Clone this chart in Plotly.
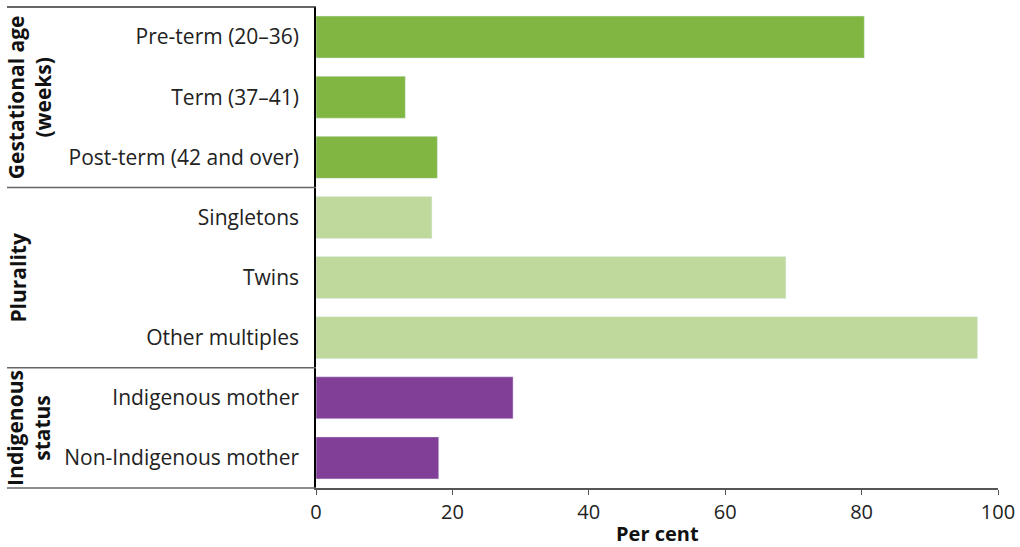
import plotly.graph_objects as go

# data
gest_labels = ["Pre-term (20–36)", "Term (37–41)", "Post-term (42 and over)"]
gest_values = [80.4, 13.1, 17.8]

plur_labels = ["Singletons", "Twins", "Other multiples"]
plur_values = [17.0, 68.9, 97.0]

indig_labels = ["Indigenous mother", "Non-Indigenous mother"]
indig_values = [28.9, 18.0]

group_titles = ["Gestational age<br>(weeks)", "Plurality", "Indigenous<br>status"]
x_ticks = [0, 20, 40, 60, 80, 100]

all_labels = gest_labels + plur_labels + indig_labels

fig = go.Figure()
fig.add_trace(go.Bar(y=gest_labels, x=gest_values, orientation="h",
                     marker=dict(color="#82B642"), showlegend=False))
fig.add_trace(go.Bar(y=plur_labels, x=plur_values, orientation="h",
                     marker=dict(color="#BED99B"), showlegend=False))
fig.add_trace(go.Bar(y=indig_labels, x=indig_values, orientation="h",
                     marker=dict(color="#823F98"), showlegend=False))

fig.update_layout(
    width=1020, height=547,
    margin=dict(l=316, r=22, t=7, b=59),
    plot_bgcolor="white", paper_bgcolor="white",
    font=dict(family="Open Sans", size=21, color="#222"),
    bargap=0.3,
)

fig.update_yaxes(
    type="category", categoryorder="array", categoryarray=all_labels,
    autorange="reversed", showline=True, linecolor="black", linewidth=1.5,
    ticks="", ticklabelstandoff=11, showgrid=False, zeroline=False,
    automargin=False,
)
fig.update_xaxes(
    range=[0, 100], tickvals=x_ticks, showline=True, linecolor="#555",
    linewidth=1.5, ticks="outside", ticklen=5, tickcolor="#555",
    showgrid=False, zeroline=False, automargin=False,
    tickfont=dict(size=20),
)

fig.add_annotation(text="<b>Per cent</b>", xref="paper", yref="paper",
                   x=0.5, y=-45 / 481, xanchor="center", yanchor="middle",
                   showarrow=False, font=dict(size=20, color="#111"))

# group separators to the left of the axis
n = len(all_labels)
bounds = [0, len(gest_labels), len(gest_labels) + len(plur_labels), n]
left = -309 / 682
for b in bounds:
    yy = 1 - b / n
    fig.add_shape(type="line", xref="paper", yref="paper",
                  x0=left, x1=0, y0=yy, y1=yy,
                  line=dict(color="#333" if b == 0 else "#666", width=1.5))

title_x = [-287 / 682, -298 / 682, -287 / 682]
for i, t in enumerate(group_titles):
    mid = 1 - (bounds[i] + bounds[i + 1]) / 2 / n
    fig.add_annotation(text="<b>" + t + "</b>", xref="paper", yref="paper",
                       x=title_x[i], y=mid, textangle=-90, showarrow=False,
                       xanchor="center", yanchor="middle",
                       font=dict(size=21, color="#111"), align="center")

fig.write_html("out.html", config={"displayModeBar": False},
               post_script="document.body.style.margin='0';")
